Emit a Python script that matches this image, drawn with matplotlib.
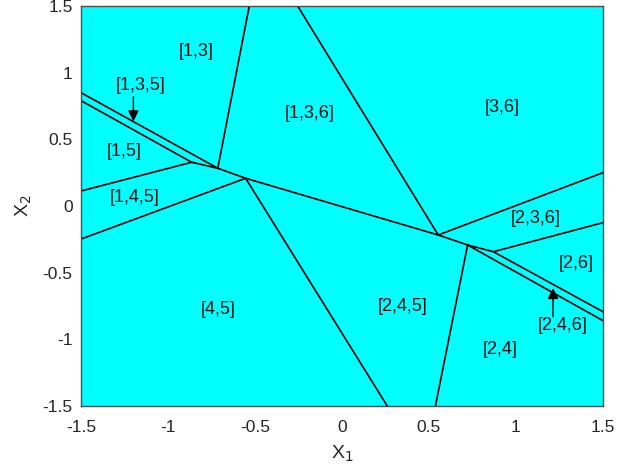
import matplotlib
matplotlib.use("Agg")
import matplotlib.pyplot as plt

plt.rcParams['font.family'] = ['Liberation Sans', 'DejaVu Sans']

# boundaries between regions, as polylines (x1 values, x2 values)
boundaries = [
    ([-1.5, -0.714], [0.850, 0.283]),
    ([-1.5, -0.864, -0.714, -0.554, 0.553, 0.722], [0.790, 0.328, 0.283, 0.208, -0.2175, -0.2925]),
    ([-1.5, -0.864], [0.1125, 0.328]),
    ([-1.5, -0.554], [-0.248, 0.208]),
    ([-0.714, -0.533], [0.283, 1.5]),
    ([-0.255, 0.553], [1.5, -0.2175]),
    ([0.553, 1.5], [-0.2175, 0.25]),
    ([-0.554, 0.260], [0.208, -1.5]),
    ([0.722, 0.537], [-0.2925, -1.5]),
    ([0.722, 0.870, 1.5], [-0.2925, -0.343, -0.793]),
    ([0.722, 1.5], [-0.2925, -0.860]),
    ([0.870, 1.5], [-0.343, -0.125]),
]

labels = ['[1,3]', '[1,3,6]', '[3,6]', '[1,5]', '[1,4,5]', '[2,3,6]',
          '[2,6]', '[2,4,5]', '[2,4]', '[4,5]']
label_x = [-0.839, -0.184, 0.92, -1.253, -1.19, 1.113, 1.349, 0.349, 0.912, -0.713]
label_y = [1.155, 0.697, 0.735, 0.405, 0.067, -0.0975, -0.435, -0.755, -1.075, -0.78]

# labels with arrows pointing at thin regions
arrow_labels = ['[1,3,5]', '[2,4,6]']
arrow_tip = [(-1.199, 0.635), (1.213, -0.615)]
arrow_text = [(-1.155, 0.907), (1.266, -0.90)]
arrow_tail = [(-1.199, 0.82), (1.213, -0.83)]

ticks = [-1.5, -1, -0.5, 0, 0.5, 1, 1.5]
tick_text = ['-1.5', '-1', '-0.5', '0', '0.5', '1', '1.5']

fig = plt.figure(figsize=(6.18, 4.76), dpi=100)
ax = fig.add_axes([0.1311, 0.1471, 0.8446, 0.8403])
ax.set_facecolor('#00ffff')

for xs, ys in boundaries:
    ax.plot(xs, ys, color='k', linewidth=1.2)

for t, x, y in zip(labels, label_x, label_y):
    ax.text(x, y, t, ha='center', va='center', fontsize=13, color='#111111')

for t, tip, txt, tail in zip(arrow_labels, arrow_tip, arrow_text, arrow_tail):
    ax.text(txt[0], txt[1], t, ha='center', va='center', fontsize=13, color='#111111')
    ax.annotate('', xy=tip, xytext=tail,
                arrowprops=dict(arrowstyle='-|>', color='k', lw=1.0,
                                mutation_scale=16, shrinkA=0, shrinkB=0))

ax.set_xlim(-1.5, 1.5)
ax.set_ylim(-1.5, 1.5)
ax.set_xticks(ticks)
ax.set_xticklabels(tick_text)
ax.set_yticks(ticks)
ax.set_yticklabels(tick_text)
ax.tick_params(length=0, labelsize=12.5, colors='#262626')
ax.tick_params(axis='x', pad=10)
ax.tick_params(axis='y', pad=6)
for s in ax.spines.values():
    s.set_color('#4d4d4d')
    s.set_linewidth(1.0)
ax.set_xlabel('X$_1$', fontsize=14, color='#262626', labelpad=6)
ax.set_ylabel('X$_2$', fontsize=14, color='#262626', labelpad=6)

fig.savefig('out.png', dpi=100)
